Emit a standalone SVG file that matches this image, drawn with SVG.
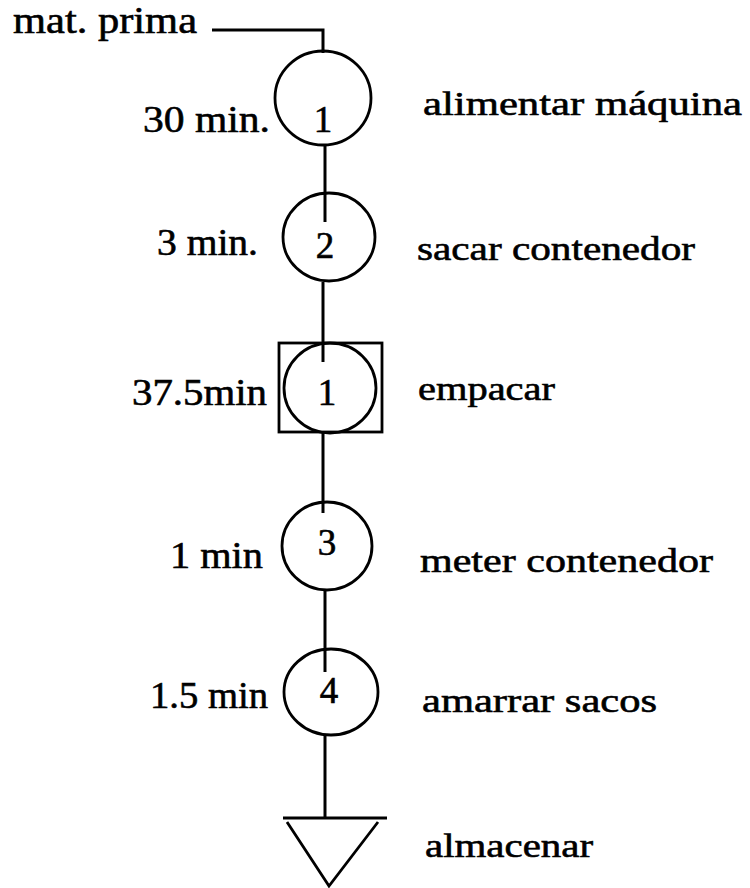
<svg xmlns="http://www.w3.org/2000/svg" width="750" height="888" viewBox="0 0 750 888">
<style>
.sh{fill:none;stroke:#000;stroke-width:2.8}
.ln{fill:none;stroke:#000;stroke-width:3}
.lbl{font-family:"Liberation Serif","Times New Roman",serif;fill:#000;stroke:#000;stroke-width:0.6}
.r{font-size:34px}
.l{font-size:37px}
.d{font-size:37px;text-anchor:middle}
</style>
<rect width="750" height="888" fill="#fff"/>
<g id="connectors">
<polyline class="ln" points="212,30 323,30 323,53"/>
<line class="ln" x1="325" y1="145" x2="325" y2="222"/>
<line class="ln" x1="323" y1="282" x2="323" y2="362"/>
<line class="ln" x1="323" y1="432" x2="323" y2="513"/>
<line class="ln" x1="325" y1="590" x2="325" y2="672"/>
<line class="ln" x1="325" y1="735" x2="325" y2="818"/>
</g>
<g id="start">
<text class="lbl l" x="13" y="33" textLength="184" lengthAdjust="spacingAndGlyphs">mat. prima</text>
</g>
<g id="op1">
<ellipse class="sh" cx="323" cy="98" rx="48" ry="47"/>
<text class="lbl d" x="323" y="132">1</text>
<text class="lbl l" x="143" y="132" textLength="127" lengthAdjust="spacingAndGlyphs">30 min.</text>
<text class="lbl r" x="423" y="115" textLength="319" lengthAdjust="spacingAndGlyphs">alimentar máquina</text>
</g>
<g id="op2">
<ellipse class="sh" cx="329" cy="237" rx="46" ry="44"/>
<text class="lbl d" x="325" y="258">2</text>
<text class="lbl l" x="157" y="255" textLength="101" lengthAdjust="spacingAndGlyphs">3 min.</text>
<text class="lbl r" x="417" y="260" textLength="278" lengthAdjust="spacingAndGlyphs">sacar contenedor</text>
</g>
<g id="combined1">
<rect class="sh" x="279" y="343" width="103" height="89"/>
<ellipse class="sh" cx="330" cy="388" rx="46" ry="45"/>
<text class="lbl d" x="327" y="405">1</text>
<text class="lbl l" x="132" y="405" textLength="135" lengthAdjust="spacingAndGlyphs">37.5min</text>
<text class="lbl r" x="418" y="400" textLength="137" lengthAdjust="spacingAndGlyphs">empacar</text>
</g>
<g id="op3">
<ellipse class="sh" cx="327" cy="546" rx="45" ry="44"/>
<text class="lbl d" x="327" y="555">3</text>
<text class="lbl l" x="170" y="568" textLength="93" lengthAdjust="spacingAndGlyphs">1 min</text>
<text class="lbl r" x="420" y="572" textLength="293" lengthAdjust="spacingAndGlyphs">meter contenedor</text>
</g>
<g id="op4">
<ellipse class="sh" cx="331" cy="692" rx="47" ry="43"/>
<text class="lbl d" x="329" y="703">4</text>
<text class="lbl l" x="150" y="708" textLength="118" lengthAdjust="spacingAndGlyphs">1.5 min</text>
<text class="lbl r" x="422" y="712" textLength="235" lengthAdjust="spacingAndGlyphs">amarrar sacos</text>
</g>
<g id="storage">
<line class="ln" x1="283" y1="818" x2="387" y2="818"/>
<polyline class="sh" points="287,822 329,886 378,822"/>
<text class="lbl r" x="425" y="857" textLength="168" lengthAdjust="spacingAndGlyphs">almacenar</text>
</g>
</svg>
